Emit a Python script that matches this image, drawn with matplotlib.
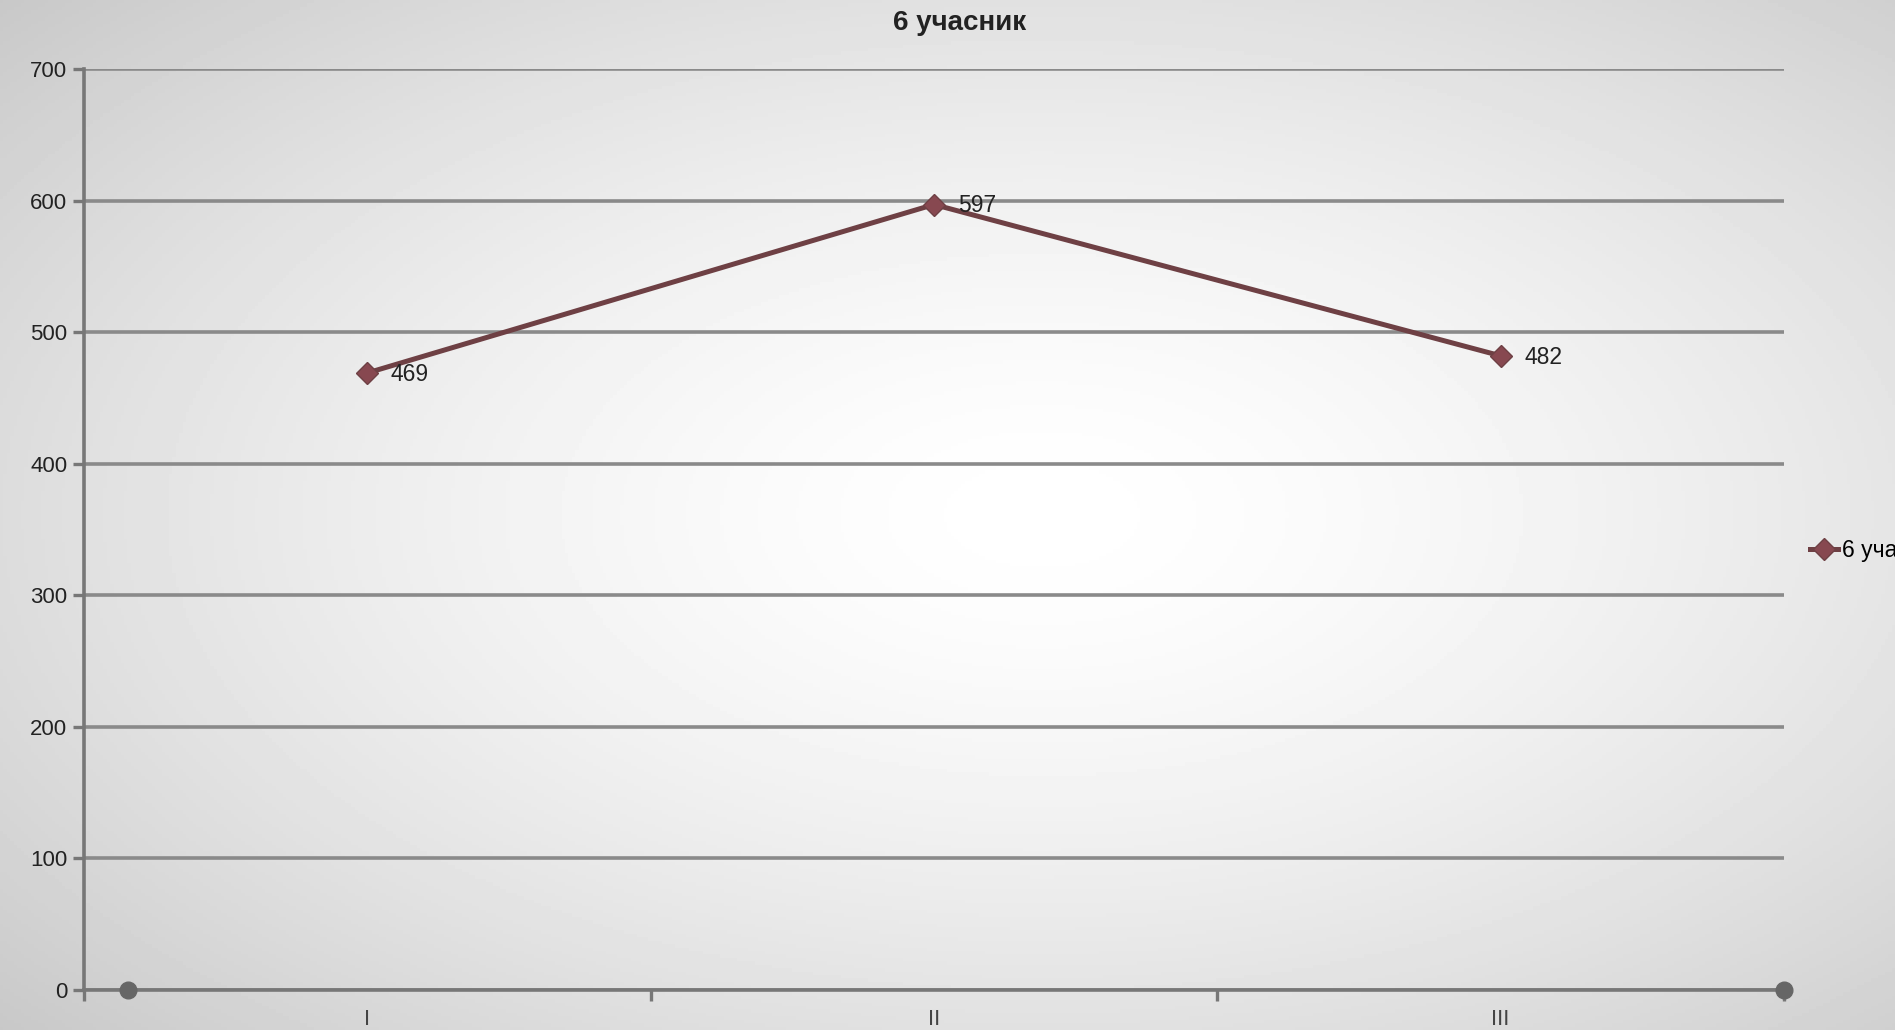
import numpy as np
import matplotlib.pyplot as plt

categories = ['I', 'II', 'III']
values = [469, 597, 482]
series_name = '6 учасник'
y_ticks = [0, 100, 200, 300, 400, 500, 600, 700]

plt.rcParams['font.family'] = ['Liberation Sans', 'DejaVu Sans']

fig = plt.figure(figsize=(18.95, 10.30), dpi=100)

# radial grey background
bg = fig.add_axes([0, 0, 1, 1], zorder=-10)
yy, xx = np.mgrid[0:1:300j, 0:1:550j]
r = np.sqrt(((xx - 0.55) / 0.8) ** 2 + ((yy - 0.5) / 0.8) ** 2)
shade = 1.0 - 0.24 * np.clip(r, 0, 1) ** 1.5
bg.imshow(shade, cmap='gray', vmin=0, vmax=1, aspect='auto', extent=[0, 1, 0, 1])
bg.axis('off')

ax = fig.add_axes([84 / 1895, 1 - 990 / 1030, 1700 / 1895, (990 - 69) / 1030])
ax.patch.set_alpha(0)

line_col = '#6e4044'
x = np.arange(len(categories))
ax.plot(x, values, color=line_col, lw=3.6, marker='D', ms=11,
        mfc='#874850', mec=line_col, label=series_name, zorder=5)
for xi, v in zip(x, values):
    ax.annotate(str(v), (xi, v), xytext=(17, -1), textcoords='offset points',
                va='center', ha='left', fontsize=16.5, color='#222222', zorder=6)

ax.set_xlim(-0.5, len(categories) - 0.5)
ax.set_ylim(0, 700)
ax.set_yticks(y_ticks)
ax.grid(axis='y', color='#8a8a8a', lw=2.6)
ax.set_axisbelow(True)

ax.set_xticks(np.arange(-0.5, len(categories), 1.0))
ax.set_xticklabels([])
ax.set_xticks(x, minor=True)
ax.set_xticklabels(categories, minor=True)
ax.tick_params(axis='x', which='major', length=8, width=2.4, color='#777777', direction='out')
ax.tick_params(axis='x', which='minor', length=0, pad=14, labelsize=16, labelcolor='#444444')
ax.tick_params(axis='y', length=8, width=2.4, color='#777777', pad=4, labelsize=16, labelcolor='#222222')

for s in ['top', 'right']:
    ax.spines[s].set_visible(False)
for s in ['left', 'bottom']:
    ax.spines[s].set_color('#777777')
    ax.spines[s].set_linewidth(2.6)

# connector dots at axis ends
ax.plot([-0.5 + 44 / 566.7, 2.5], [0, 0], 'o', color='#666666', ms=12,
        clip_on=False, zorder=7)

fig.text(960 / 1895, 1 - 23 / 1030, series_name, ha='center', va='center',
         fontsize=20, fontweight='bold', color='#222222')

leg = fig.legend(loc='center left', bbox_to_anchor=(1810 / 1895, 1 - 551 / 1030),
                 frameon=False, fontsize=16.5, handlelength=1.2, handletextpad=0.2,
                 borderpad=0, borderaxespad=0)

fig.savefig('out.png', dpi=100)
